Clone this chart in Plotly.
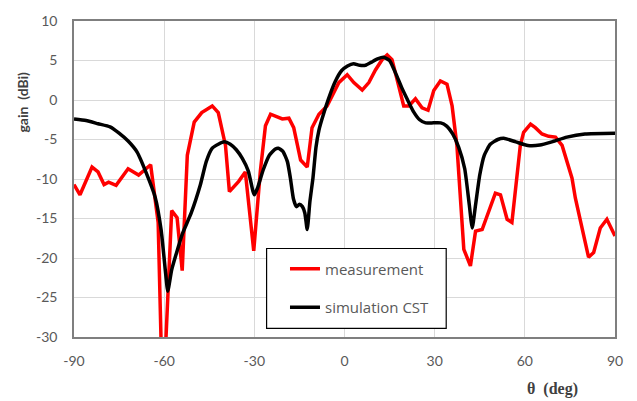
import plotly.graph_objects as go

# measurement (red)
meas_theta = [-90, -88, -84, -82, -80, -78.5, -76, -72, -68.5, -64.5, -62, -61, -59.5, -57.5, -55.7, -54,
              -52.3, -50, -47.5, -44, -42, -39.6, -38.3, -35.2, -33, -30.2, -28, -26.3, -24.6, -20.7,
              -18.5, -16.9, -14.6, -12.4, -10.8, -8.5, -5.8, -1.9, 0.9, 3.1, 5.9, 8.1, 10.3, 12.5, 14.2,
              15.8, 17.5, 19.7, 21.4, 23.6, 25.8, 27.8, 29.7, 31.9, 34.1, 35.8, 37.4, 38.0, 39.7, 41.9,
              43.6, 45.8, 48, 50.2, 51.9, 54.1, 55.7, 57.4, 58.5, 59.6, 61.9, 63.5, 65.7, 67.9, 70.2,
              72.4, 75.7, 76.8, 79, 81.2, 82.9, 85.1, 87.3, 90]
meas_gain = [-10.7, -12.0, -8.5, -9.1, -10.7, -10.4, -10.8, -8.7, -9.5, -8.2, -15.5, -31, -31, -14.0, -14.9, -21.6,
             -7.0, -2.8, -1.6, -0.75, -1.6, -5.75, -11.6, -10.3, -9.1, -19.1, -9.0, -3.25, -1.8, -2.4,
             -2.3, -3.5, -7.6, -8.5, -3.5, -1.8, -0.75, 2.2, 3.2, 2.2, 1.25, 2.2, 3.8, 5.1, 5.7,
             5.1, 2.6, -0.75, -0.75, 0.15, -1.0, -1.3, 1.2, 2.4, 2.0, -0.75, -5.75, -9.1, -18.9, -21.0,
             -16.6, -16.4, -14.0, -11.8, -12.0, -15.1, -15.5, -9.1, -5.75, -4.1, -3.05, -3.5, -4.3, -4.6, -4.7,
             -5.75, -9.9, -12.4, -16.2, -19.9, -19.3, -16.2, -15.1, -17.2]

# simulation CST (black)
sim_theta = [-90, -86, -82, -78, -75, -72, -69, -66, -63, -61, -59.5, -58.8, -57.5, -56, -54, -51, -48, -46,
             -44, -42, -40, -38, -36, -34, -32, -30.5, -30, -29, -27, -25, -23, -22, -20.5, -19, -18, -17,
             -16, -15, -14, -13.2, -12.4, -11.5, -10.5, -9.5, -8.5, -7, -5, -3, -1, 1, 3, 5, 7, 9, 11,
             13, 15, 17, 19, 21, 23, 25, 27, 29, 32, 34, 36, 38, 40, 41.5, 42.5, 43.6, 45, 46.5, 48.5,
             51, 53, 57, 61, 65, 69, 74, 80, 90]
sim_gain = [-2.4, -2.6, -3.0, -3.4, -4.2, -5.2, -6.6, -9.2, -12.3, -16.5, -22.0, -24.2, -21.5, -19.5, -17.0, -14.3,
            -10.8, -7.8, -6.1, -5.6, -5.3, -5.6, -6.3, -7.4, -9.0, -11.5, -12.0, -11.2, -8.8, -7.0, -6.2, -6.1,
            -6.5, -7.8, -9.9, -12.5, -13.5, -13.2, -13.5, -14.3, -16.4, -12.8, -9.9, -6.0, -3.8, -1.8, 0.5,
            2.4, 3.7, 4.3, 4.6, 4.4, 4.4, 4.8, 5.2, 5.4, 5.0, 3.4, 1.6, 0.0, -1.5, -2.5, -2.9, -2.9, -2.9,
            -3.3, -4.3, -6.0, -8.7, -13.2, -16.2, -13.3, -9.5, -7.0, -5.6, -5.0, -4.85, -5.3, -5.75, -5.7,
            -5.3, -4.7, -4.3, -4.2]

x_ticks = [-90, -60, -30, 0, 30, 60, 90]
y_ticks = [10, 5, 0, -5, -10, -15, -20, -25, -30]

fig = go.Figure()
fig.add_trace(go.Scatter(x=meas_theta, y=meas_gain, mode="lines", name="measurement",
                         line=dict(color="#ff0000", width=3.5), legendgroup="a"))
fig.add_trace(go.Scatter(x=sim_theta, y=sim_gain, mode="lines", name="simulation CST",
                         line=dict(color="#000000", width=3.5, shape="spline", smoothing=0.5),
                         legendgroup="b"))

tickfont = dict(family="Lato", size=14, color="#595959")
fig.update_layout(
    width=637, height=401,
    margin=dict(l=74, r=22, t=17, b=64),
    paper_bgcolor="white", plot_bgcolor="white",
    showlegend=True,
    legend=dict(x=0.39, y=0.2675, xanchor="left", yanchor="top",
                bgcolor="rgba(0,0,0,0)", borderwidth=0,
                font=dict(family="Open Sans", size=15, color="#595959"),
                tracegroupgap=16, traceorder="grouped"),
    xaxis=dict(range=[-90, 90], tickvals=x_ticks, ticktext=[str(v) for v in x_ticks],
               showgrid=True, gridcolor="#d9d9d9", gridwidth=1, zeroline=False,
               showline=True, mirror=True, linecolor="#7f7f7f", linewidth=1.5,
               ticks="", tickfont=tickfont, ticklabelstandoff=10),
    yaxis=dict(range=[-30, 10], tickvals=y_ticks, ticktext=[str(v) for v in y_ticks],
               showgrid=True, gridcolor="#d9d9d9", gridwidth=1, zeroline=False,
               showline=True, mirror=True, linecolor="#7f7f7f", linewidth=1.5,
               ticks="", tickfont=tickfont, ticklabelstandoff=12),
    shapes=[dict(type="rect", xref="paper", yref="paper", x0=0.356, x1=0.688, y0=0.027, y1=0.280,
                 line=dict(color="#000000", width=1.2), fillcolor="white", layer="above")],
    annotations=[
        dict(text="<b>gain  (dBi)</b>", xref="paper", yref="paper", x=-0.095, y=(337 - 99) / 320,
             xanchor="center", yanchor="middle", textangle=-90, showarrow=False,
             font=dict(family="Lato", size=14, color="#404040")),
        dict(text="<b>θ  (deg)</b>", xref="paper", yref="paper", x=(552 - 74) / 541, y=-(390 - 337) / 320,
             xanchor="center", yanchor="middle", showarrow=False,
             font=dict(family="Liberation Serif", size=16, color="#404040")),
    ],
)

fig.write_html("out.html", config={"displayModeBar": False},
               post_script="document.body.style.margin='0';document.body.style.padding='0';"
                           "document.body.style.overflow='hidden';")
